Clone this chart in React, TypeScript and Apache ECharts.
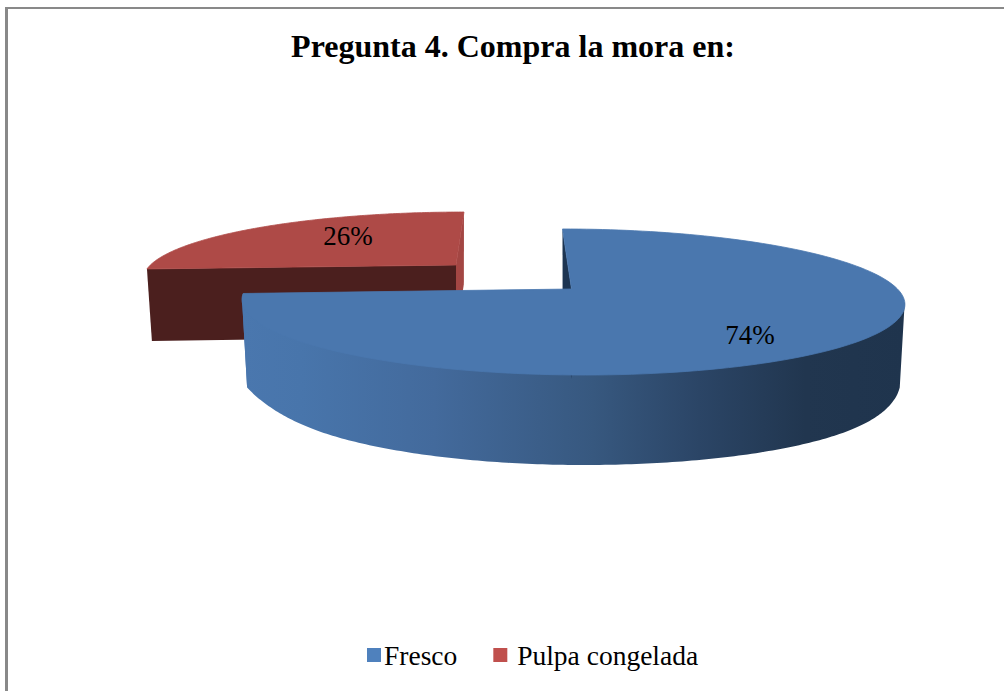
import React, { useEffect, useRef } from "react";
import * as echarts from "echarts";

const titleText = "Pregunta 4. Compra la mora en:";
const categories = ["Fresco", "Pulpa congelada"];
const values = [74, 26];
const labels = ["74%", "26%"];

const FONT = "'Liberation Serif', serif";
const legendColors = ["#4F81BD", "#C0504D"];
const topColors = ["#4A77AE", "#AE4A47"];
const innerWallColors = ["#1D3552", "#A34643"];
const frontWallColors = ["#1D3552", "#4B1F1E"];
// Perspective frame of each exploded slice on the page.
const frames = [
  { ax: 571.5, ay: 289, r: 326, h: 70.7, s: -10.6, p: 0.178, depth: 90, shrink: 0.985, lx: 750, ly: 335 },
  { ax: 456, ay: 265, r: 305.6, h: 62.4, s: 9.4, p: 0.178, depth: 72, shrink: 0.984, lx: 348, ly: 236 },
];
// Rounded lower edge of the big slice's wall.
const bevel = { window: 28, frontRight: 0.96, frontLeft: 0.93, depthLoss: 0.05 };
const sideGradient = [
  { offset: 0, color: "#4A77AE" },
  { offset: 0.09, color: "#4875AB" },
  { offset: 0.29, color: "#436A9C" },
  { offset: 0.53, color: "#37587F" },
  { offset: 0.69, color: "#2B4566" },
  { offset: 0.85, color: "#21364F" },
  { offset: 1, color: "#1F344D" },
];

function project(f: any, deg: number, lower: boolean, shrink?: number, depth?: number): number[] {
  const t = (deg * Math.PI) / 180;
  const X = Math.sin(t);
  const Z = Math.cos(t);
  const d = 1 + f.p * Z;
  const k = lower ? (shrink ?? f.shrink) : 1;
  return [
    f.ax + (k * (f.r * X + f.s * Z)) / d,
    f.ay - (f.h * Z) / d + (lower ? (depth ?? f.depth) : 0),
  ];
}

function sliceAngles(i: number): number[] {
  const total = values.reduce((a, b) => a + b, 0);
  const before = values.slice(0, i).reduce((a, b) => a + b, 0);
  return [(before / total) * 360, ((before + values[i]) / total) * 360];
}

function arc(f: any, from: number, to: number, lower: boolean): number[][] {
  const steps = 160;
  const pts: number[][] = [];
  for (let k = 0; k <= steps; k++) {
    pts.push(project(f, from + ((to - from) * k) / steps, lower));
  }
  return pts;
}

// Upper edge of the wall, tucked just under the top face so that no seam shows.
function tuckedArc(f: any, right: number, left: number): number[][] {
  const steps = 200;
  const pts: number[][] = [];
  for (let k = 0; k <= steps; k++) {
    const a = right + ((left - right) * k) / steps;
    const u = Math.min(1, 6 * Math.sin((Math.PI * k) / steps));
    pts.push(project(f, a, true, 1 - 0.02 * u, -3 * u));
  }
  return pts;
}

// Lower rim of the wall between the two silhouette angles, pulled in towards the corners.
function beveledArc(f: any, right: number, left: number): number[][] {
  const steps = 200;
  const pts: number[][] = [];
  for (let k = 0; k <= steps; k++) {
    const a = right + ((left - right) * k) / steps;
    const tr = Math.max(0, 1 - (a - right) / bevel.window);
    const tl = Math.max(0, 1 - (left - a) / bevel.window);
    const w = Math.max(tr * tr, tl * tl);
    const base = a < 180 ? bevel.frontRight : bevel.frontLeft;
    const shrink = base + (f.shrink - base) * w;
    const depth = f.depth * (1 - bevel.depthLoss * w);
    pts.push(project(f, a, true, shrink, depth));
  }
  return pts;
}

function renderSlice(params: any) {
  const i = params.seriesIndex;
  const f = frames[i];
  const [a0, a1] = sliceAngles(i);
  const rim = arc(f, a0, a1, false);
  const apex = [f.ax, f.ay];
  const apexLow = [f.ax, f.ay + f.depth];
  const children: any[] = [];
  if (i === 0) {
    // visible outer wall: from the right silhouette round the front to the left silhouette
    const rightEdge = (Math.acos(-f.p) * 180) / Math.PI;
    const leftEdge = 360 - rightEdge;
    const endDepth = f.depth * (1 - bevel.depthLoss);
    children.push({
      type: "polygon",
      shape: { points: [...tuckedArc(f, rightEdge, leftEdge), ...beveledArc(f, rightEdge, leftEdge).reverse()] },
      style: { fill: new echarts.graphic.LinearGradient(0, 0, 1, 0, sideGradient) },
    });
    children.push({
      type: "polygon",
      shape: {
        points: [
          ...arc(f, leftEdge, a1, false),
          project(f, a1, true, f.shrink, endDepth),
          project(f, leftEdge, true, f.shrink, endDepth),
        ],
      },
      style: { fill: topColors[0] },
    });
    // cut wall of the far radius, seen through the gap
    children.push({
      type: "polygon",
      shape: { points: [project(f, a0, false), apex, apexLow, project(f, a0, true)] },
      style: { fill: innerWallColors[0] },
    });
  } else {
    // cut wall of the far radius
    children.push({
      type: "polygon",
      shape: { points: [project(f, a1, false), apex, apexLow, project(f, a1, true)] },
      style: { fill: innerWallColors[1] },
    });
    // cut wall of the near radius
    children.push({
      type: "polygon",
      shape: { points: [project(f, a0, false), apex, apexLow, project(f, a0, true)] },
      style: { fill: frontWallColors[1] },
    });
  }
  // top face
  children.push({
    type: "polygon",
    shape: { points: [apex, ...rim] },
    style: { fill: topColors[i], stroke: topColors[i], lineWidth: 0.8 },
  });
  children.push({
    type: "text",
    style: {
      text: labels[i],
      x: f.lx,
      y: f.ly,
      align: "center",
      verticalAlign: "middle",
      fill: "#000000",
      fontFamily: FONT,
      fontSize: 27,
    },
  });
  return { type: "group", children };
}

export default function App() {
  const ref = useRef<HTMLDivElement>(null);
  useEffect(() => {
    const chart = echarts.init(ref.current!, null, { renderer: "svg" });
    chart.setOption({
      animation: false,
      backgroundColor: "#FFFFFF",
      title: {
        text: titleText,
        left: 508,
        top: 25,
        textAlign: "center",
        textStyle: { fontFamily: FONT, fontSize: 32, fontWeight: "bold", color: "#000000" },
      },
      legend: {
        data: categories,
        left: 367,
        top: 641,
        padding: 0,
        icon: "rect",
        itemWidth: 14,
        itemHeight: 14,
        itemGap: 36,
        formatter: (name: string) => (name === categories[1] ? " " + name : name),
        textStyle: { fontFamily: FONT, fontSize: 27.5, color: "#000000", padding: [0, 0, 0, -2] },
      },
      graphic: [
        { type: "rect", shape: { x: 5, y: 7, width: 999, height: 2 }, style: { fill: "#898989" } },
        { type: "rect", shape: { x: 5, y: 7, width: 3, height: 684 }, style: { fill: "#898989" } },
      ],
      series: categories.map((name, i) => ({
        type: "custom",
        name,
        coordinateSystem: "none",
        z: i === 0 ? 3 : 2,
        itemStyle: { color: legendColors[i] },
        renderItem: renderSlice,
        data: [values[i]],
      })),
    });
    return () => chart.dispose();
  }, []);
  return (
    <div
      ref={ref}
      style={{ position: "absolute", left: 0, top: 0, width: 1004, height: 691 }}
    />
  );
}
